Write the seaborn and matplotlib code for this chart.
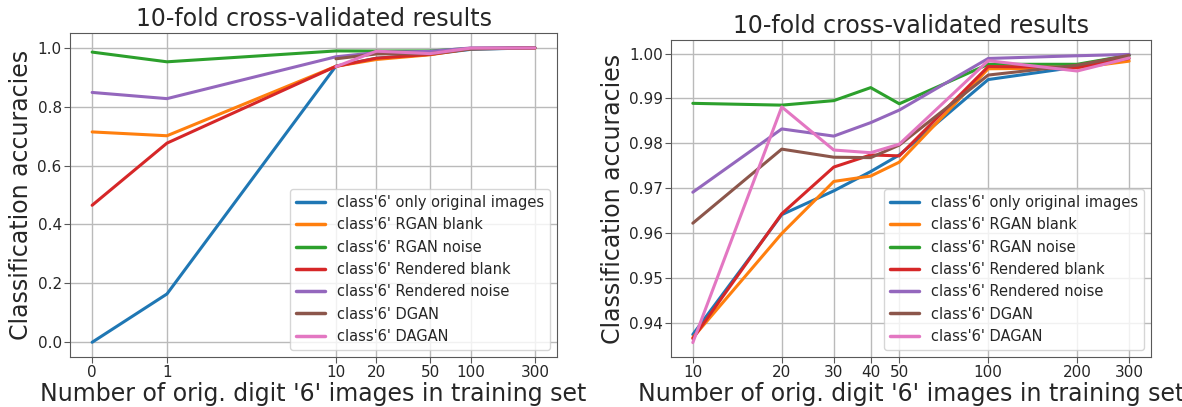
import numpy as np
import pandas as pd
import matplotlib
matplotlib.use('Agg')
import matplotlib.pyplot as plt
import seaborn as sns
from matplotlib.ticker import NullLocator, FixedLocator, FixedFormatter

# Series labels (legend order)
methods = ["class'6' only original images", "class'6' RGAN blank", "class'6' RGAN noise",
           "class'6' Rendered blank", "class'6' Rendered noise", "class'6' DGAN", "class'6' DAGAN"]

# Right panel: 10..300 original images
n_right = [10, 20, 30, 40, 50, 100, 200, 300]
only_orig  = [0.9374, 0.9641, 0.9694, 0.9737, 0.9774, 0.9942, 0.9970, 0.9996]
rgan_blank = [0.9367, 0.9599, 0.9715, 0.9727, 0.9758, 0.9966, 0.9968, 0.9983]
rgan_noise = [0.9889, 0.9885, 0.9895, 0.9924, 0.9888, 0.9976, 0.9976, 0.9996]
rend_blank = [0.9365, 0.9643, 0.9747, 0.9774, 0.9772, 0.9971, 0.9969, 0.9989]
rend_noise = [0.9691, 0.9832, 0.9816, 0.9846, 0.9874, 0.9989, 0.9995, 0.9998]
dgan       = [0.9622, 0.9787, 0.9769, 0.9768, 0.9796, 0.9952, 0.9974, 0.9996]
dagan      = [0.9356, 0.9881, 0.9785, 0.9779, 0.9798, 0.9984, 0.9961, 0.9990]

# Left panel: extra points at 0 and 1 original images
n_left = [0, 1, 10, 20, 50, 100, 300]
n_left_gan = [10, 20, 50, 100, 300]
only_orig_low  = [0.000, 0.164]
rgan_blank_low = [0.714, 0.701]
rgan_noise_low = [0.985, 0.952]
rend_blank_low = [0.465, 0.676]
rend_noise_low = [0.848, 0.827]

left_ticks = [0, 1, 10, 20, 50, 100, 300]
right_ticks = [10, 20, 30, 40, 50, 100, 200, 300]
left_yticks = [0.0, 0.2, 0.4, 0.6, 0.8, 1.0]
right_yticks = [0.94, 0.95, 0.96, 0.97, 0.98, 0.99, 1.00]

right_series = [only_orig, rgan_blank, rgan_noise, rend_blank, rend_noise, dgan, dagan]
low_series = [only_orig_low, rgan_blank_low, rgan_noise_low, rend_blank_low, rend_noise_low]

def pick(vals, xs, keep):
    return [v for x, v in zip(xs, vals) if x in keep]

rows_r, rows_l = [], []
for m, vals in zip(methods, right_series):
    for x, v in zip(n_right, vals):
        rows_r.append((m, x, v))
    hi = pick(vals, n_right, n_left_gan)
    if m in methods[:5]:
        lo = low_series[methods.index(m)]
        for x, v in zip(n_left, lo + hi):
            rows_l.append((m, x, v))
    else:
        for x, v in zip(n_left_gan, hi):
            rows_l.append((m, x, v))
df_r = pd.DataFrame(rows_r, columns=['method', 'n', 'acc'])
df_l = pd.DataFrame(rows_l, columns=['method', 'n', 'acc'])

sns.set_style('ticks')
plt.rcParams['font.family'] = ['DejaVu Sans']
plt.rcParams['axes.edgecolor'] = '0.35'
palette = sns.color_palette('tab10', 7)

fig = plt.figure(figsize=(11.82, 4.07), dpi=100)
ax1 = fig.add_axes([70/1182, 50/407, 487/1182, 324/407])
ax2 = fig.add_axes([671/1182, 50/407, 480/1182, 317/407])

for ax, df in [(ax1, df_l), (ax2, df_r)]:
    sns.lineplot(data=df, x='n', y='acc', hue='method', hue_order=methods,
                 palette=palette, linewidth=2.2, ax=ax, sort=True, errorbar=None)
    ax.grid(True, color='0.73', linewidth=1.0)
    ax.set_title('10-fold cross-validated results', fontsize=17, pad=5)
    ax.set_xlabel("Number of orig. digit '6' images in training set", fontsize=17, labelpad=1)
    ax.set_ylabel('Classification accuracies', fontsize=17, labelpad=3)
    ax.tick_params(labelsize=11, length=4, pad=2, color='0.35')
    leg = ax.legend(loc='lower right', fontsize=10.5, framealpha=0.8)
    for h in leg.get_lines():
        h.set_linewidth(2.5)

# symlog x for the left panel (linear below 2), with 5% margins in scaled space
ax1.set_xscale('symlog', linthresh=2)
tr = ax1.xaxis.get_transform()
lo, hi = tr.transform([min(n_left), max(n_left)])
pad = 0.05 * (hi - lo)
ax1.set_xlim(tr.inverted().transform([lo - pad, hi + pad]))
ax1.xaxis.set_major_locator(FixedLocator(left_ticks))
ax1.xaxis.set_major_formatter(FixedFormatter([str(t) for t in left_ticks]))
ax1.xaxis.set_minor_locator(NullLocator())
ax1.set_yticks(left_yticks)
ax1.set_yticklabels([f'{t:.1f}' for t in left_yticks])

ax2.set_xscale('log')
ax2.xaxis.set_major_locator(FixedLocator(right_ticks))
ax2.xaxis.set_major_formatter(FixedFormatter([str(t) for t in right_ticks]))
ax2.xaxis.set_minor_locator(NullLocator())
ax2.set_yticks(right_yticks)
ax2.set_yticklabels([f'{t:.2f}' for t in right_yticks])

fig.savefig('out.png', dpi=100)
